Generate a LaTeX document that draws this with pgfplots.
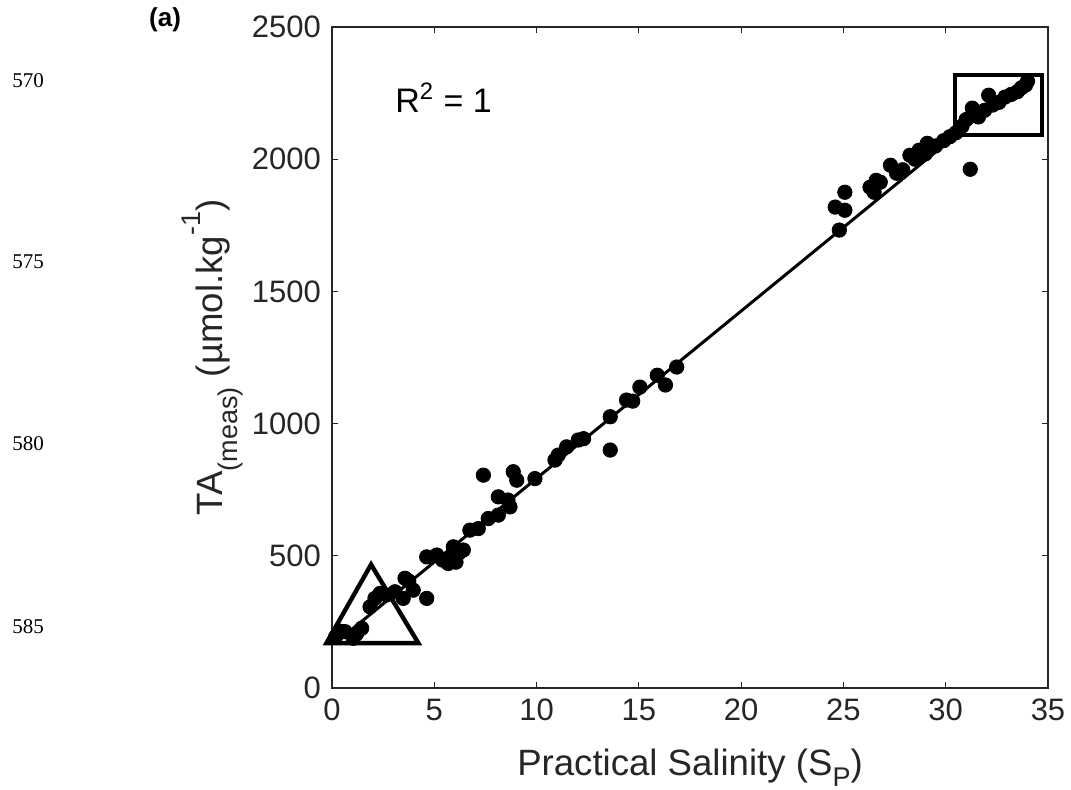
\documentclass[border=0pt]{standalone}
\usepackage{fontspec}
\setmainfont{Liberation Sans}
\newfontfamily\serifnum{Liberation Serif}
\usepackage{pgfplots}
\pgfplotsset{compat=1.18}
\usepackage{pgfplotstable}
\definecolor{axgray}{RGB}{38,38,38}
\newcommand{\msub}[1]{\raisebox{-0.42em}{\fontsize{13.5}{14}\selectfont #1}}
\newcommand{\msubb}[1]{\raisebox{-0.3em}{\fontsize{13.5}{14}\selectfont #1}}
\newcommand{\msup}[1]{\raisebox{0.6em}{\fontsize{13.5}{14}\selectfont #1}}

\pgfplotstableread{
x y
0.18 194
0.40 215
0.64 213
1.04 188
1.20 205
1.45 226
1.86 307
2.10 339
2.35 358
2.67 352
3.08 364
3.48 339
3.57 415
3.75 405
3.97 370
4.63 339
4.63 496
5.12 503
5.40 484
5.68 471
5.77 496
5.93 534
6.06 476
6.20 510
6.42 522
6.74 597
7.15 603
7.40 805
7.64 641
8.13 654
8.13 723
8.60 711
8.70 685
8.86 818
9.03 786
9.92 792
10.90 862
11.06 881
11.47 912
12.04 938
12.30 943
13.60 900
13.60 1026
14.40 1089
14.70 1085
15.05 1138
15.90 1183
16.30 1146
16.85 1214
24.60 1819
24.80 1732
25.07 1875
25.07 1807
26.30 1894
26.50 1875
26.80 1913
26.60 1920
27.30 1977
27.60 1947
27.90 1960
28.25 2015
28.50 2000
28.70 2034
29.00 2020
29.10 2060
29.50 2050
29.90 2070
30.20 2085
30.50 2100
30.80 2125
31.20 1962
31.00 2150
31.30 2193
31.60 2160
31.90 2185
32.10 2242
32.30 2205
32.60 2215
32.90 2235
33.20 2245
33.50 2255
33.70 2270
33.90 2280
34.00 2295
}\pts

\begin{document}
\begin{tikzpicture}
\useasboundingbox (-166pt,-50.5pt) rectangle (369.5pt,344pt);
\clip (-166pt,-50.5pt) rectangle (369.5pt,344pt);
\begin{axis}[
  name=ax,
  at={(0,0)}, anchor=south west,
  scale only axis,
  width=358pt, height=330.5pt,
  xmin=0, xmax=35, ymin=0, ymax=2500,
  xtick={0,5,...,35}, ytick={0,500,...,2500},
  scaled ticks=false,
  /pgf/number format/1000 sep={},
  /pgf/number format/assume math mode=true,
  tick align=inside,
  major tick length=3pt,
  axis line style={axgray, line width=0.6pt},
  tick style={axgray, line width=0.6pt},
  ticklabel style={font=\fontsize{15.5}{18}\selectfont, text=axgray},
  yticklabel style={xshift=-2pt},
  xticklabel style={yshift=-2pt},
  clip=false,
  xlabel={Practical Salinity (S\msubb{P})},
  ylabel={TA\msub{(meas)} (µmol.kg\msup{-1})},
  label style={font=\fontsize{18.3}{21}\selectfont, text=axgray},
  xlabel style={at={(axis description cs:0.5,-0.1320)}, anchor=base},
  ylabel style={at={(axis description cs:-0.1536,0.5)}, anchor=base, rotate=0},
]
\addplot[only marks, mark=*, mark size=3.6pt, black] table[x=x,y=y] {\pts};
\addplot[black, line width=1.5pt] coordinates {(0.3,179) (34.1,2318)};
\addplot[black, line width=2.2pt, line join=miter] coordinates {(-0.27,170) (1.91,467) (4.22,170)} -- cycle;
\addplot[black, line width=2.2pt, line join=miter] coordinates {(30.45,2091) (30.45,2318) (34.7,2318) (34.7,2091)} -- cycle;
\node[anchor=base west, font=\fontsize{17}{20}\selectfont, text=black, inner sep=0pt] at (axis cs:3.08,2178) {R\textsuperscript{2} = 1};
\node[font=\bfseries\fontsize{13}{15}\selectfont, inner sep=0pt] at (axis cs:-8.16,2526) {(a)};
\node[font=\serifnum\fontsize{10.5}{12}\selectfont, inner sep=0pt] at (axis cs:-14.86,2299) {570};
\node[font=\serifnum\fontsize{10.5}{12}\selectfont, inner sep=0pt] at (axis cs:-14.86,1611) {575};
\node[font=\serifnum\fontsize{10.5}{12}\selectfont, inner sep=0pt] at (axis cs:-14.86,926) {580};
\node[font=\serifnum\fontsize{10.5}{12}\selectfont, inner sep=0pt] at (axis cs:-14.86,234) {585};
\end{axis}
\end{tikzpicture}
\end{document}
